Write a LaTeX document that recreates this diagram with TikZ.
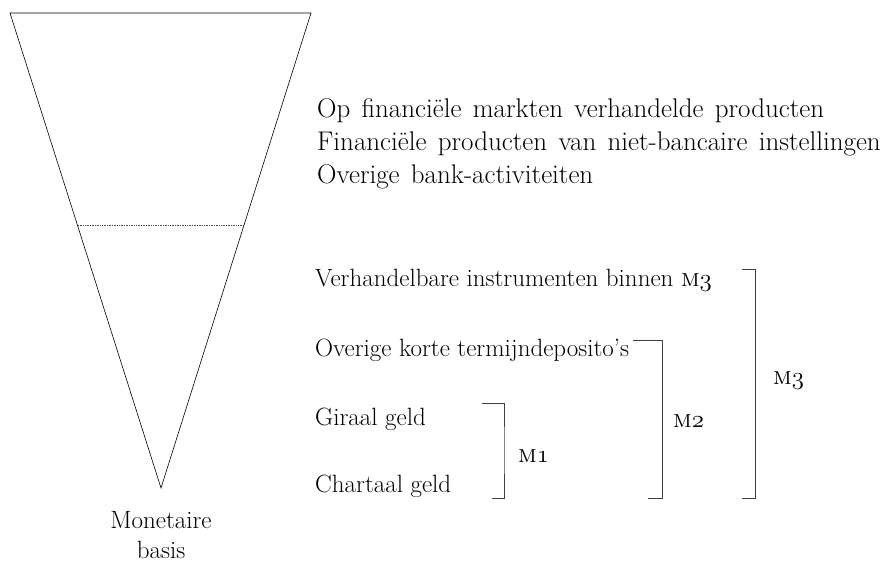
\documentclass[tikz,border=0pt]{standalone}
\newcommand{\mgeld}[1]{\textsc{m}{\fontencoding{OML}\fontfamily{cmm}\fontseries{m}\fontshape{it}\selectfont #1}}
\newcommand{\ruim}{\fontsize{27}{30}\selectfont\spaceskip=11.3pt plus 2pt\relax}

\begin{document}
\begin{tikzpicture}[x=1pt,y=-1pt,font=\fontsize{25}{30}\selectfont,
  regel/.style={anchor=base west,inner sep=0pt},
  klamme/.style={draw=black!75,line width=0.8pt}]
\useasboundingbox (0,0) rectangle (880,562);
% trechter
\draw[line width=0.6pt] (10,13) -- (311,13) -- (161,488) -- cycle;
\draw[black!70,densely dotted,line width=0.7pt] (78,225) -- (244,225);
\node[align=center,anchor=north,inner sep=0pt] (basis) at (161,511) {Monetaire\\basis};
\foreach \t[count=\i] in {Op financi\"ele markten verhandelde producten,
    Financi\"ele producten van niet-bancaire instellingen,
    Overige bank-activiteiten}
  \node[regel,font=\ruim] (boven\i) at (317,{84+33*\i}) {\t};
\node[regel] (verh) at (315,286) {Verhandelbare instrumenten binnen \mgeld{3}};
\node[regel] (kort) at (315,356) {Overige korte termijndeposito's};
\node[regel] (giraal) at (315,425) {Giraal geld};
\node[regel] (chartaal) at (315,492) {Chartaal geld};
% haken
\coordinate (h1a) at (482,403); \coordinate (h1b) at (492,498);
\coordinate (h2a) at (633,340); \coordinate (h2b) at (648,498);
\coordinate (h3a) at (742,269); \coordinate (h3b) at (742,498);
\draw[klamme] (h1a) -| (504,450) |- (h1b);
\draw[klamme] (h2a) -| (662,420) |- (h2b);
\draw[klamme] (h3a) -| (755,380) |- (h3b);
\node[regel] (m1) at (518,462) {\mgeld{1}};
\node[regel] (m2) at (673,427) {\mgeld{2}};
\node[regel] (m3) at (773,384) {\mgeld{3}};
\end{tikzpicture}
\end{document}
